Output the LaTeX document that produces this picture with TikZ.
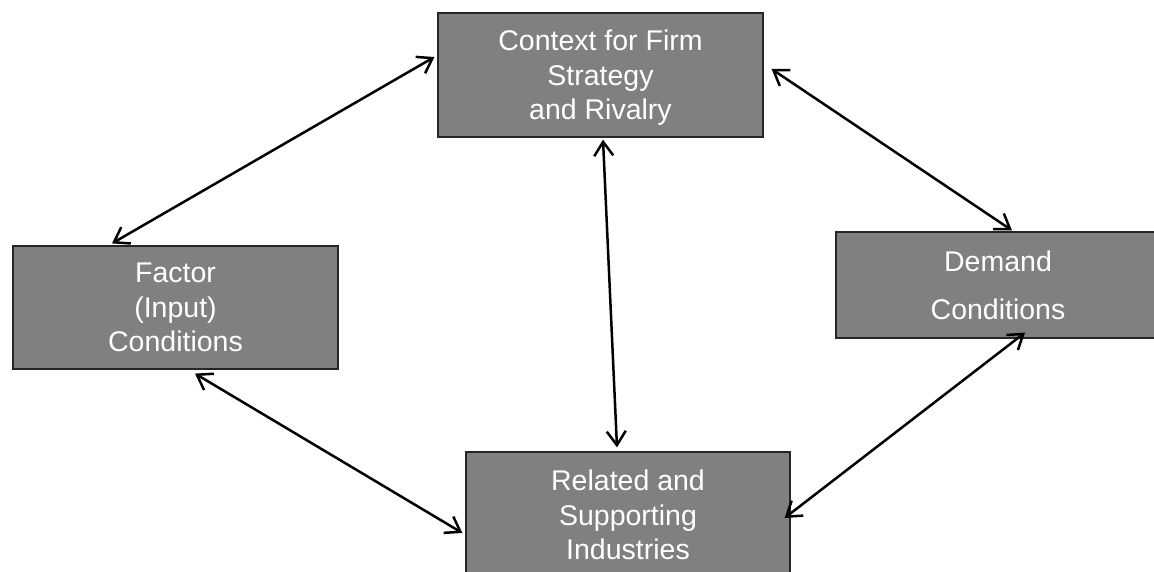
\documentclass[tikz,border=0pt]{standalone}
\usepackage{fontspec}
\setmainfont{Liberation Sans}
\usetikzlibrary{arrows.meta,calc}
\begin{document}
\begin{tikzpicture}[x=1pt,y=1pt,
  boxnode/.style={draw=black!85,line width=1.2pt,fill={rgb,255:red,128;green,128;blue,128},
    text=white,align=center,inner sep=0pt,font=\fontsize{28.5}{34.5}\selectfont},
  arr/.style={line width=2.5pt,{Straight Barb[length=14pt,width=19pt,line width=2.5pt]}-{Straight Barb[length=14pt,width=19pt,line width=2.5pt]}}]
\useasboundingbox (0,0) rectangle (1154,571);
\fill[white] (0,0) rectangle (1154,571);
\begin{scope}
\clip (0,0) rectangle (1154,571);
\node[boxnode,minimum width=325pt,minimum height=124pt] (top) at (600.5,496) {\rule{0pt}{26pt}Context for Firm\\Strategy\\and Rivalry};
\node[boxnode,minimum width=325pt,minimum height=123pt] (left) at (175.5,263.5) {Factor\\(Input)\\Conditions};
\node[boxnode,minimum width=324pt,minimum height=106pt] (right) at (998,286) {Demand\\[13.5pt]Conditions};
\node[boxnode,minimum width=324pt,minimum height=126pt] (bot) at (628,56) {Related and\\Supporting\\Industries};
\end{scope}
\draw[arr] ($(top.west)+(-3,18)$) -- ($(left.north)+(-63.5,2)$);
\draw[arr] ($(top.east)+(8,6)$) -- ($(right.north)+(14,1)$);
\draw[arr] ($(top.south)+(2.5,-2)$) -- ($(bot.north)+(-11,4)$);
\draw[arr] ($(left.south)+(19.5,-4)$) -- ($(bot.west)+(-3,-18)$);
\draw[arr] ($(bot.east)+(-6,-3)$) -- ($(right.south)+(27,6)$);
\end{tikzpicture}
\end{document}
